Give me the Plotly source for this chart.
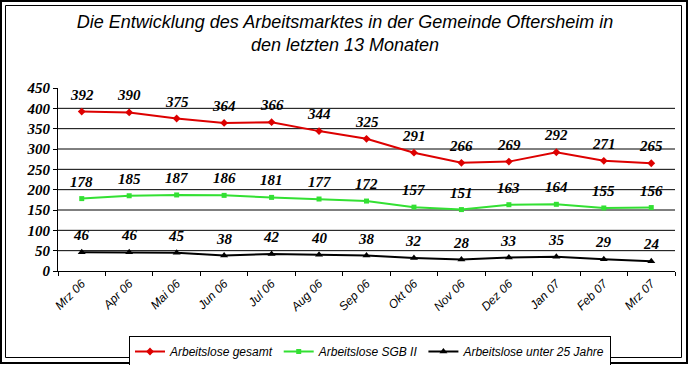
import plotly.graph_objects as go

months = ["Mrz 06", "Apr 06", "Mai 06", "Jun 06", "Jul 06", "Aug 06", "Sep 06",
          "Okt 06", "Nov 06", "Dez 06", "Jan 07", "Feb 07", "Mrz 07"]
gesamt = [392, 390, 375, 364, 366, 344, 325, 291, 266, 269, 292, 271, 265]
sgb2 = [178, 185, 187, 186, 181, 177, 172, 157, 151, 163, 164, 155, 156]
unter25 = [46, 46, 45, 38, 42, 40, 38, 32, 28, 33, 35, 29, 24]
grid_vals = [50, 100, 150, 200, 250, 300, 350, 400]
y_ticks = [0, 50, 100, 150, 200, 250, 300, 350, 400, 450]

W, H = 690, 365
L, R, T, B = 58, 15, 88, 94
pw, ph = W - L - R, H - T - B

def px_x(p):
    return (p - L) / pw

def px_y(p):
    return (H - B - p) / ph

series = [
    ("Arbeitslose gesamt", gesamt, "#dd0000", dict(symbol="diamond", size=6)),
    ("Arbeitslose SGB II", sgb2, "#33e033", dict(symbol="square", size=5)),
    ("Arbeitslose unter 25 Jahre", unter25, "#000000", dict(symbol="triangle-up", size=7)),
]

fig = go.Figure()
annotations = []
for name, vals, col, mk in series:
    fig.add_trace(go.Scatter(
        x=months, y=vals, name=name, mode="lines+markers",
        line=dict(color=col, width=2),
        marker=dict(color=col, **mk),
    ))
    for m, v in zip(months, vals):
        annotations.append(dict(
            x=m, y=v, text=str(v), showarrow=False, yshift=17,
            font=dict(family="Liberation Serif", size=15, color="#000000",
                      style="italic", weight="bold"),
        ))

shapes = []
for g in grid_vals:
    shapes.append(dict(type="line", xref="paper", yref="y", x0=0, x1=1, y0=g, y1=g,
                       line=dict(color="#000000", width=1), layer="below"))
# outer frame (double border)
shapes.append(dict(type="rect", xref="paper", yref="paper",
                   x0=px_x(1), x1=px_x(687), y0=px_y(363), y1=px_y(1),
                   line=dict(color="#000000", width=2)))
shapes.append(dict(type="rect", xref="paper", yref="paper",
                   x0=px_x(5.5), x1=px_x(681.5), y0=px_y(357.5), y1=px_y(5.5),
                   line=dict(color="#000000", width=1)))

fig.update_layout(
    width=W, height=H,
    margin=dict(l=L, r=R, t=T, b=B, autoexpand=False),
    paper_bgcolor="white", plot_bgcolor="white",
    title=dict(
        text="Die Entwicklung des Arbeitsmarktes in der Gemeinde Oftersheim in<br>den letzten 13 Monaten",
        x=0.5, xanchor="center", xref="container", yref="container",
        y=1 - 28 / H, yanchor="middle",
        font=dict(family="Liberation Sans", size=18, color="#000000", style="italic"),
    ),
    xaxis=dict(
        type="category", categoryorder="array", categoryarray=months,
        showline=True, linecolor="#000000", linewidth=1,
        ticks="outside", tickson="boundaries", ticklen=4, tickcolor="#000000",
        tickangle=-45, showgrid=False, zeroline=False, automargin=False,
        tickfont=dict(family="Liberation Sans", size=12, color="#000000", style="italic"),
        range=[-0.5, 12.5],
    ),
    yaxis=dict(
        range=[0, 450], tickvals=y_ticks, showgrid=False, zeroline=False,
        showline=True, linecolor="#000000", linewidth=1, automargin=False,
        ticks="outside", ticklen=4, tickcolor="#000000",
        tickfont=dict(family="Liberation Serif", size=15, color="#000000",
                      style="italic", weight="bold"),
    ),
    legend=dict(
        orientation="h", x=px_x(370), xanchor="center", y=px_y(336), yanchor="top",
        bordercolor="#000000", borderwidth=1, bgcolor="white",
        font=dict(family="Liberation Sans", size=12, color="#000000", style="italic"),
        itemwidth=30, tracegroupgap=0,
    ),
    shapes=shapes,
    annotations=annotations,
    showlegend=True,
)

fig.write_html("out.html", config={"displayModeBar": False},
               post_script="document.body.style.margin='0px';document.body.style.overflow='hidden';")
